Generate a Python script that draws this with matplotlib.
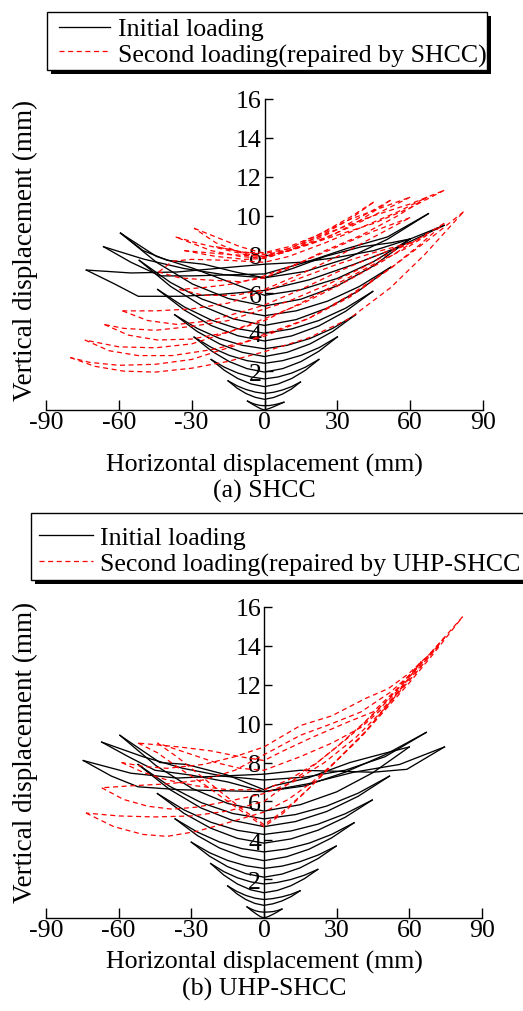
import matplotlib
matplotlib.use('Agg')
import matplotlib.pyplot as plt
from matplotlib.lines import Line2D
from matplotlib.patches import Rectangle

plt.rcParams['font.family'] = ['Liberation Serif', 'DejaVu Serif']
plt.rcParams['axes.unicode_minus'] = False

# ---------------- data ----------------
x_ticks = [-90, -60, -30, 0, 30, 60, 90]
x_tick_labels = ['-90', '-60', '-30', '0', '30', '60', '90']
y_ticks = [2, 4, 6, 8, 10, 12, 14, 16]
y_tick_labels = ['2', '4', '6', '8', '10', '12', '14', '16']

series_names = ['Initial loading', 'Second loading(repaired by SHCC)',
                'Second loading(repaired by UHP-SHCC']
captions = ['(a) SHCC', '(b) UHP-SHCC']

# (a) SHCC - initial loading, branches (x, y)
a_init_x = [
    [-7, -5, -3, -1.5, 0, 2, 4, 6, 8],
    [8, 6, 4, 2, 0, -2, -4, -5.5, -7],
    [-15, -11.25, -7.5, -3.75, 0, 3.7, 7.4, 11.1, 14.8],
    [14.8, 11.1, 7.4, 3.7, 0, -3.75, -7.5, -11.25, -15],
    [-22, -16.5, -11, -5.5, 0, 5.6, 11.2, 16.8, 22.4],
    [22.4, 16.8, 11.2, 5.6, 0, -5.5, -11, -16.5, -22],
    [-29, -21.75, -14.5, -7.25, 0, 7.5, 15, 22.5, 30],
    [30, 22.5, 15, 7.5, 0, -7.25, -14.5, -21.75, -29],
    [-37, -27.75, -18.5, -9.25, 0, 9.4, 18.75, 28.1, 37.5],
    [37.5, 28.1, 18.75, 9.4, 0, -9.25, -18.5, -27.75, -37],
    [-44, -33, -22, -11, 0, 11.15, 22.3, 33.45, 44.6],
    [44.6, 33.45, 22.3, 11.15, 0, -11, -22, -33, -44],
    [-51.6, -38.7, -25.8, -12.9, 0, 13, 26, 39, 52],
    [52, 39, 26, 13, 0, -12.9, -25.8, -38.7, -51.6],
    [-59.3, -44.5, -29.65, -14.8, 0, 15, 30, 45, 60],
    [60, 45, 30, 15, 0, -14.8, -29.65, -44.5, -59.3],
    [-59.3, -50, -40, -25, -12, 0, 12, 25, 40, 52, 60],
    [-66.3, -55, -43, -30, -15, 0, 16.9, 33.75, 50.6, 67.5],
    [67.5, 50.6, 33.75, 16.9, 0, -16.6, -33.15, -49.7, -66.3],
    [-73.4, -62, -52, -35, -18, 0, 18.5, 37, 55.5, 74],
    [74, 60, 45, 30, 15, 0, -18, -36, -55, -73.4],
]
a_init_y = [
    [0.46, 0.3, 0.16, 0.06, 0.0, 0.08, 0.18, 0.29, 0.4],
    [0.4, 0.33, 0.27, 0.23, 0.22, 0.24, 0.3, 0.37, 0.46],
    [1.5, 1.12, 0.84, 0.65, 0.55, 0.64, 0.82, 1.08, 1.44],
    [1.44, 1.2, 1.03, 0.91, 0.85, 0.92, 1.05, 1.24, 1.5],
    [2.6, 2.04, 1.62, 1.34, 1.2, 1.34, 1.62, 2.04, 2.6],
    [2.6, 2.2, 1.9, 1.7, 1.6, 1.7, 1.9, 2.2, 2.6],
    [3.75, 3.03, 2.49, 2.13, 1.95, 2.13, 2.49, 3.03, 3.76],
    [3.76, 3.21, 2.81, 2.54, 2.4, 2.54, 2.81, 3.21, 3.75],
    [4.9, 4.04, 3.4, 2.97, 2.75, 2.97, 3.4, 4.04, 4.9],
    [4.9, 4.2, 3.68, 3.33, 3.15, 3.33, 3.68, 4.2, 4.9],
    [6.2, 5.14, 4.35, 3.82, 3.55, 3.81, 4.32, 5.08, 6.1],
    [6.1, 5.24, 4.6, 4.17, 3.95, 4.18, 4.63, 5.3, 6.2],
    [7.7, 6.36, 5.36, 4.69, 4.35, 4.65, 5.25, 6.15, 7.35],
    [7.35, 6.35, 5.6, 5.1, 4.85, 5.14, 5.71, 6.56, 7.7],
    [9.1, 7.6, 6.48, 5.73, 5.35, 5.7, 6.39, 7.42, 8.8],
    [8.8, 7.64, 6.77, 6.19, 5.9, 6.6, 7.3, 7.9, 9.1],
    [9.1, 8.2, 7.7, 7.5, 7.1, 6.8, 7.3, 7.9, 8.4, 8.6, 8.8],
    [8.4, 7.6, 6.9, 6.9, 6.95, 7.0, 7.6, 8.3, 8.9, 10.1],
    [10.1, 8.78, 7.79, 7.13, 6.8, 6.96, 7.28, 7.76, 8.4],
    [7.2, 6.5, 5.85, 5.85, 5.95, 6.15, 6.7, 7.5, 8.4, 9.5],
    [9.5, 8.8, 8.2, 7.85, 7.6, 7.5, 7.3, 7.1, 7.05, 7.2],
]

# (a) SHCC - second loading
a_rep_x = [
    [-80, -70, -58, -45, -30, -15, 0, 18, 35, 52, 66, 82],
    [82, 68, 52, 35, 18, 0, -15, -30, -45, -60, -72, -80],
    [-74, -64, -52, -38, -22, -8, 0, 18, 35, 52, 63, 74],
    [74, 62, 48, 32, 16, 0, -15, -30, -45, -60, -74],
    [-66, -56, -44, -30, -15, 0, 15, 30, 45, 58, 67],
    [67, 55, 40, 25, 10, 0, -15, -30, -45, -58, -66],
    [-58.5, -48, -36, -22, -8, 0, 15, 30, 45, 60],
    [60, 45, 30, 15, 0, -15, -30, -45, -58.5],
    [-43.6, -38, -30, -15, 0, 10, 25, 40, 55, 67],
    [67, 55, 40, 25, 10, 0, -10, -25, -35, -43.6],
    [-35, -25, -12, 0, 15, 30, 45, 60],
    [60, 45, 30, 15, 0, -12, -25, -35],
    [-29, -20, -10, 0, 10, 20, 30, 45, 60, 74],
    [74, 60, 45, 30, 18, 8, 0, -10, -20, -29],
    [-36.6, -28, -18, -8, 0, 10, 20, 32, 45, 52],
    [52, 40, 28, 15, 5, 0, -10, -22, -36.6],
    [-33, -20, -8, 0, 12, 25, 35, 45],
    [45, 35, 22, 10, 0, -15, -33],
    [-20, -8, 0, 10, 22, 35, 48, 60],
    [60, 48, 35, 22, 10, 0, -10, -20],
]
a_rep_y = [
    [2.7, 2.25, 2.0, 1.95, 2.15, 2.5, 3.0, 3.7, 4.7, 6.3, 8.0, 10.2],
    [10.2, 8.8, 7.3, 5.9, 4.7, 3.8, 3.2, 2.6, 2.35, 2.3, 2.45, 2.7],
    [3.6, 3.05, 2.8, 2.8, 3.1, 3.5, 3.9, 4.7, 5.8, 7.3, 8.4, 9.6],
    [9.6, 8.7, 7.6, 6.5, 5.5, 4.7, 4.0, 3.4, 3.2, 3.25, 3.6],
    [4.4, 3.85, 3.6, 3.65, 4.0, 4.6, 5.5, 6.5, 7.5, 8.3, 9.0],
    [9.0, 8.3, 7.3, 6.4, 5.6, 5.2, 4.6, 4.3, 4.1, 4.2, 4.4],
    [5.1, 4.6, 4.4, 4.6, 5.1, 5.4, 6.2, 7.1, 7.9, 8.6],
    [8.6, 8.1, 7.5, 6.8, 6.1, 5.5, 5.2, 5.1, 5.1],
    [7.1, 7.65, 7.75, 7.7, 7.6, 7.9, 8.6, 9.4, 10.2, 10.95],
    [10.95, 10.0, 9.0, 8.2, 7.3, 6.8, 6.6, 6.7, 6.8, 7.1],
    [6.2, 5.9, 5.9, 6.2, 7.0, 7.9, 8.9, 9.9],
    [9.9, 9.2, 8.4, 7.6, 6.9, 6.5, 6.3, 6.2],
    [9.35, 8.9, 8.4, 8.05, 8.3, 8.8, 9.3, 10.0, 10.6, 11.3],
    [11.3, 10.4, 9.6, 9.0, 8.5, 8.1, 7.85, 8.1, 8.6, 9.35],
    [8.9, 8.6, 8.3, 8.0, 7.9, 8.2, 8.7, 9.4, 10.3, 10.8],
    [10.8, 9.8, 9.0, 8.4, 8.0, 7.8, 7.9, 8.2, 8.9],
    [8.2, 7.9, 7.75, 7.8, 8.3, 9.1, 9.8, 10.7],
    [10.7, 9.9, 9.0, 8.3, 7.9, 8.0, 8.2],
    [8.4, 8.1, 8.1, 8.4, 9.0, 9.8, 10.4, 10.95],
    [10.95, 10.2, 9.4, 8.7, 8.2, 8.0, 8.15, 8.4],
]

# (b) UHP-SHCC - initial loading
b_init_x = [
    [-7, -5, -3, -1.5, 0, 1.9, 3.7, 5.5, 7.4],
    [7.4, 5.5, 3.7, 1.9, 0, -1.75, -3.5, -5.25, -7],
    [-15, -11.25, -7.5, -3.75, 0, 3.7, 7.45, 11.2, 14.9],
    [14.9, 11.2, 7.45, 3.7, 0, -3.75, -7.5, -11.25, -15],
    [-22, -16.5, -11, -5.5, 0, 5.55, 11.1, 16.65, 22.2],
    [22.2, 16.65, 11.1, 5.55, 0, -5.5, -11, -16.5, -22],
    [-30, -22.5, -15, -7.5, 0, 7.45, 14.9, 22.35, 29.8],
    [29.8, 22.35, 14.9, 7.45, 0, -7.5, -15, -22.5, -30],
    [-36.7, -27.5, -18.35, -9.2, 0, 9.3, 18.6, 27.9, 37.2],
    [37.2, 27.9, 18.6, 9.3, 0, -9.2, -18.35, -27.5, -36.7],
    [-44, -33, -22, -11, 0, 11.2, 22.35, 33.5, 44.7],
    [44.7, 33.5, 22.35, 11.2, 0, -11, -22, -33, -44],
    [-52, -39, -26, -13, 0, 12.95, 25.9, 38.85, 51.8],
    [51.8, 38.85, 25.9, 12.95, 0, -13, -26, -39, -52],
    [-59.5, -44.6, -29.75, -14.9, 0, 15, 30, 45, 60],
    [60, 49, 35.5, 18, 3.9, 0, -15, -32, -43, -59.5],
    [-67, -56, -45, -30, -15, 0, 17, 33.5, 50, 67],
    [67, 50, 33.5, 17, 0, -17, -33.5, -50, -67],
    [-74.6, -63, -52, -35, -18, 0, 18, 37, 56, 74.5],
    [74.5, 59, 45, 30, 15, 0, -18, -36, -55, -74.6],
]
b_init_y = [
    [0.57, 0.37, 0.19, 0.07, 0.0, 0.08, 0.19, 0.31, 0.46],
    [0.46, 0.38, 0.33, 0.31, 0.3, 0.32, 0.37, 0.46, 0.57],
    [1.65, 1.25, 0.95, 0.75, 0.65, 0.73, 0.88, 1.1, 1.4],
    [1.4, 1.22, 1.09, 1.0, 0.95, 1.02, 1.16, 1.37, 1.65],
    [2.8, 2.2, 1.75, 1.45, 1.3, 1.42, 1.66, 2.02, 2.5],
    [2.5, 2.2, 1.98, 1.83, 1.75, 1.86, 2.07, 2.38, 2.8],
    [3.9, 3.18, 2.64, 2.28, 2.1, 2.26, 2.58, 3.06, 3.7],
    [3.7, 3.24, 2.9, 2.67, 2.55, 2.69, 2.96, 3.36, 3.9],
    [5.1, 4.24, 3.6, 3.17, 2.95, 3.15, 3.54, 4.12, 4.9],
    [4.9, 4.3, 3.85, 3.55, 3.4, 3.57, 3.91, 4.42, 5.1],
    [6.4, 5.38, 4.62, 4.1, 3.85, 4.07, 4.52, 5.18, 6.07],
    [6.07, 5.36, 4.83, 4.48, 4.3, 4.51, 4.93, 5.56, 6.4],
    [7.9, 6.62, 5.66, 5.02, 4.7, 4.96, 5.48, 6.26, 7.3],
    [7.3, 6.42, 5.76, 5.32, 5.1, 5.38, 5.94, 6.78, 7.9],
    [9.4, 7.84, 6.67, 5.89, 5.5, 5.83, 6.49, 7.48, 8.8],
    [8.8, 8.45, 8.0, 7.2, 6.8, 6.6, 7.35, 7.9, 8.0, 9.4],
    [9.05, 8.3, 7.6, 7.35, 7.0, 6.5, 6.8, 7.5, 8.4, 9.55],
    [9.55, 8.3, 7.6, 7.25, 7.1, 7.3, 7.7, 8.3, 9.05],
    [8.1, 7.3, 6.75, 6.6, 6.55, 6.5, 6.9, 7.5, 7.9, 8.8],
    [8.8, 7.65, 7.5, 7.55, 7.6, 7.4, 7.3, 7.2, 7.45, 8.1],
]

# (b) UHP-SHCC - second loading
b_rep_x = [
    [-73.5, -62, -50, -40, -28, -15, 0, 10, 20, 30, 40, 50, 60, 70, 82],
    [82, 70, 60, 50, 40, 30, 20, 10, 0, -15, -30, -45, -60, -73.5],
    [-67, -58, -48, -38, -28, -15, 0, 12, 25, 38, 50, 62, 74.7],
    [74.7, 62, 52, 40, 28, 15, 0, -12, -25, -40, -55, -67],
    [-58.8, -50, -40, -28, -15, 0, 10, 22, 35, 48, 60, 72],
    [72, 60, 51.3, 42, 28, 15, 0, -12, -25, -40, -50, -58.8],
    [-52, -44, -35, -25, -15, -7, 0, 8, 18, 30, 42, 54, 65],
    [65, 55, 45, 35, 20, 8, 0, -10, -22, -35, -52],
    [-44, -36, -27, -18, -9, 0, 8, 18, 30, 42, 50, 58],
    [58, 50, 40, 28, 15, 0, -10, -20, -32, -44],
]
b_rep_y = [
    [5.4, 4.7, 4.3, 4.2, 4.45, 4.9, 5.45, 6.1, 7.0, 8.1, 9.3, 10.7, 12.1, 13.6, 15.5],
    [15.5, 13.8, 12.4, 11.1, 9.9, 8.8, 7.8, 6.9, 6.0, 5.5, 5.25, 5.2, 5.25, 5.4],
    [6.7, 6.1, 5.75, 5.6, 5.7, 6.0, 6.4, 7.0, 8.0, 9.3, 10.8, 12.5, 14.45],
    [14.45, 12.7, 11.6, 10.6, 10.0, 9.4, 8.4, 7.6, 7.1, 6.9, 6.8, 6.7],
    [8.0, 7.5, 7.1, 6.8, 6.6, 6.6, 7.1, 8.0, 9.3, 10.8, 12.3, 14.0],
    [14.0, 12.6, 11.8, 11.3, 10.4, 9.9, 8.8, 8.3, 7.9, 7.7, 7.8, 8.0],
    [9.0, 8.5, 7.7, 6.9, 6.0, 5.3, 4.7, 5.4, 6.6, 8.1, 9.6, 11.4, 13.2],
    [13.2, 11.8, 10.6, 10.1, 9.3, 8.6, 8.1, 8.3, 8.6, 8.8, 9.0],
    [9.0, 8.3, 7.4, 6.5, 5.6, 4.8, 5.5, 6.6, 8.1, 9.6, 10.8, 12.0],
    [12.0, 10.9, 9.8, 9.0, 8.3, 7.6, 7.7, 8.0, 8.5, 9.0],
]

# ---------------- figure ----------------
W, H = 523, 1012
fig = plt.figure(figsize=(W / 100, H / 100), dpi=100)


def fx(px):
    return px / W


def fy(py):
    return 1 - py / H


FS = 18.6
FS_Y = 19.5
BLACK_STYLE = dict(color='black', lw=0.95, solid_joinstyle='round')
RED_STYLE = dict(color='#ff0000', lw=0.9, linestyle=(0, (4.0, 2.9)))

panels = [
    dict(box=(46, 100, 483, 411), init=(a_init_x, a_init_y), rep=(a_rep_x, a_rep_y),
         rep_name=series_names[1], caption=captions[0],
         legend=dict(box=(47, 13, 487, 71), line_x=(59, 110), line_y=(28, 52),
                     text_x=118, base=(36, 63)),
         ylabel_y=250, xlabel_y=465, caption_y=491),
    dict(box=(46, 608, 482, 919), init=(b_init_x, b_init_y), rep=(b_rep_x, b_rep_y),
         rep_name=series_names[2], caption=captions[1],
         legend=dict(box=(31, 514, 560, 581), line_x=(39, 93), line_y=(536, 562),
                     text_x=100, base=(545, 572)),
         ylabel_y=752, xlabel_y=962, caption_y=989),
]

for p in panels:
    x0, y0, x1, y1 = p['box']
    ax = fig.add_axes([fx(x0), fy(y1), (x1 - x0) / W, (y1 - y0) / H])
    ax.set_xlim(-90, 90)
    ax.set_ylim(0, 16)
    ax.patch.set_alpha(0)
    for s in ('top', 'right'):
        ax.spines[s].set_visible(False)
    ax.spines['left'].set_position(('data', 0))
    for s in ('left', 'bottom'):
        ax.spines[s].set_linewidth(1.0)
    ax.set_xticks(x_ticks)
    ax.set_xticklabels(x_tick_labels)
    ax.set_yticks(y_ticks)
    ax.set_yticklabels(y_tick_labels)
    ax.tick_params(axis='x', direction='in', length=7, width=1.0, pad=1, labelsize=FS)
    ax.tick_params(axis='y', direction='in', length=6, width=1.0, pad=2, labelsize=FS)

    ix, iy = p['init']
    for bx, by in zip(ix, iy):
        ax.plot(bx, by, zorder=3, clip_on=False, **BLACK_STYLE)
    rx, ry = p['rep']
    for bx, by in zip(rx, ry):
        ax.plot(bx, by, zorder=3.5, clip_on=False, **RED_STYLE)

    # axis titles
    fig.text(fx(25), fy(p['ylabel_y']), 'Vertical displacement (mm)', rotation=90,
             ha='center', va='center', fontsize=FS_Y)
    fig.text(fx(264), fy(p['xlabel_y']), 'Horizontal displacement (mm)',
             ha='center', va='center', fontsize=FS)
    fig.text(fx(264), fy(p['caption_y']), p['caption'],
             ha='center', va='center', fontsize=FS)

    # legend (drawn by hand to reproduce the boxed, shadowed look)
    lg = p['legend']
    bx0, by0, bx1, by1 = lg['box']
    sh = 4
    fig.add_artist(Rectangle((fx(bx0 + sh), fy(by1 + sh)), (bx1 - bx0) / W, (by1 - by0) / H,
                             transform=fig.transFigure, facecolor='black',
                             edgecolor='black', lw=0, zorder=10))
    fig.add_artist(Rectangle((fx(bx0), fy(by1)), (bx1 - bx0) / W, (by1 - by0) / H,
                             transform=fig.transFigure, facecolor='white',
                             edgecolor='black', lw=1.0, zorder=11))
    lx0, lx1 = lg['line_x']
    ly_a, ly_b = lg['line_y']
    fig.add_artist(Line2D([fx(lx0), fx(lx1)], [fy(ly_a), fy(ly_a)],
                          transform=fig.transFigure, zorder=12, **BLACK_STYLE))
    fig.add_artist(Line2D([fx(lx0), fx(lx1)], [fy(ly_b), fy(ly_b)],
                          transform=fig.transFigure, zorder=12, **RED_STYLE))
    fig.text(fx(lg['text_x']), fy(lg['base'][0]), series_names[0], ha='left',
             va='baseline', fontsize=FS, zorder=13)
    fig.text(fx(lg['text_x']), fy(lg['base'][1]), p['rep_name'], ha='left',
             va='baseline', fontsize=FS, zorder=13)

fig.savefig('out.png', dpi=100, facecolor='white')
